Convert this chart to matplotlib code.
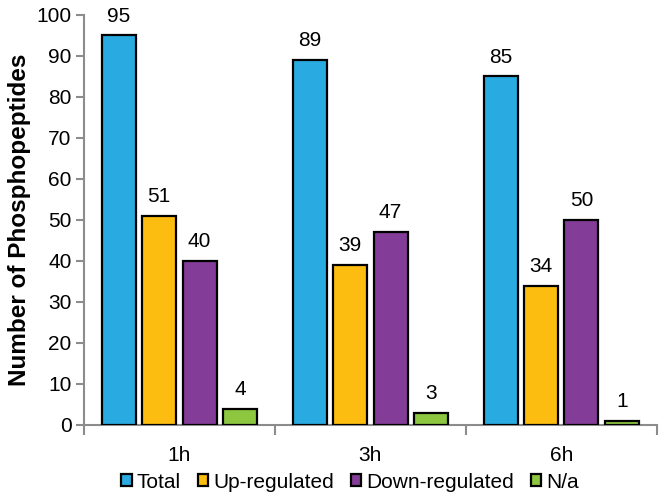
import matplotlib
matplotlib.use("Agg")
import matplotlib.pyplot as plt
from matplotlib.patches import Patch
import numpy as np

plt.rcParams['font.family'] = ['Liberation Sans', 'DejaVu Sans']

groups = ["1h", "3h", "6h"]
series = ["Total", "Up-regulated", "Down-regulated", "N/a"]
total = [95, 89, 85]
up = [51, 39, 34]
down = [40, 47, 50]
na = [4, 3, 1]
colors = ["#29ABE2", "#FDBD10", "#833C97", "#8DC63F"]

values = [total, up, down, na]

fig = plt.figure(figsize=(6.64, 4.98), dpi=100)
ax = fig.add_axes([0.1265, 0.1466, 0.8625, 0.8234])

x = np.arange(len(groups))
pitch = 0.212
width = 0.178
offsets = (np.arange(4) - 1.5) * pitch
for i, (vals, c) in enumerate(zip(values, colors)):
    bars = ax.bar(x + offsets[i], vals, width, color=c, edgecolor="black", linewidth=1.6, zorder=3)
    for b, v in zip(bars, vals):
        ax.text(b.get_x() + b.get_width() / 2, v + 2.4, str(v), ha="center", va="bottom", fontsize=15)

ax.set_xlim(-0.5, len(groups) - 0.5)
ax.set_ylim(0, 100)
ax.set_yticks(np.arange(0, 101, 10))
ax.tick_params(axis="y", labelsize=15, length=6, width=1.5, color="#8c8c8c", direction="out", pad=3)
ax.set_xticks(np.arange(-0.5, len(groups), 1.0))
ax.set_xticklabels([])
ax.set_xticks(x, minor=True)
ax.set_xticklabels(groups, minor=True, fontsize=15)
ax.tick_params(axis="x", which="minor", length=0, pad=15)
ax.tick_params(axis="x", which="major", length=7, width=1.5, color="#8c8c8c", direction="out")

for s in ["top", "right"]:
    ax.spines[s].set_visible(False)
for s in ["left", "bottom"]:
    ax.spines[s].set_color("#8c8c8c")
    ax.spines[s].set_linewidth(1.5)

ax.set_ylabel("Number of Phosphopeptides", fontsize=17.5, fontweight="bold", labelpad=4)

handles = [Patch(facecolor=c, edgecolor="black", linewidth=1.6, label=s) for s, c in zip(series, colors)]
fig.legend(handles=handles, loc="center", bbox_to_anchor=(350 / 664, 1 - 482 / 498), ncol=4,
           frameon=False, fontsize=15, handlelength=0.5, handleheight=0.5, handletextpad=0.25,
           columnspacing=0.8, borderaxespad=0)

fig.savefig("out.png", dpi=100)
